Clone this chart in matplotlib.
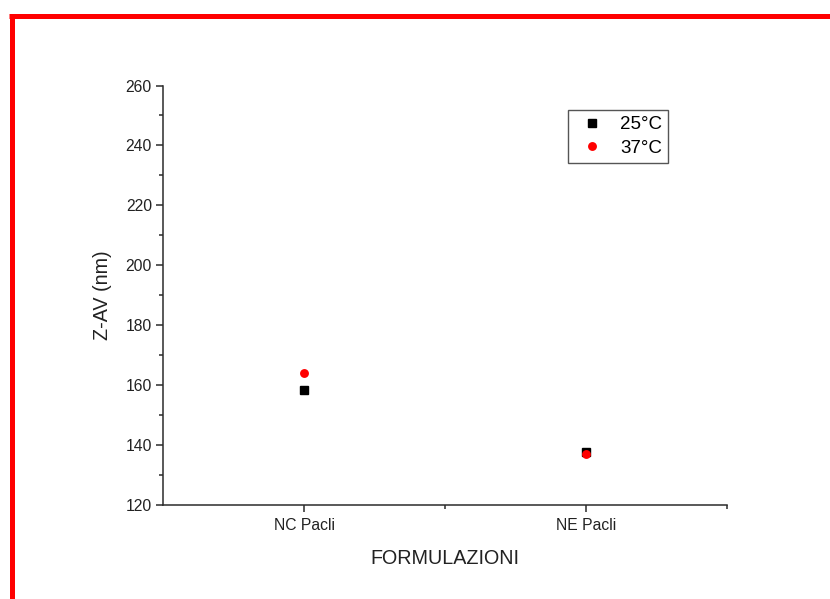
import matplotlib
matplotlib.use("Agg")
import matplotlib.pyplot as plt
from matplotlib.lines import Line2D
from matplotlib.ticker import MultipleLocator, FixedLocator

plt.rcParams['font.family'] = ['Liberation Sans', 'DejaVu Sans']

# Formulations and mean particle size (Z-average, nm) at two temperatures
categories = ["NC Pacli", "NE Pacli"]
zav_25 = [158.4, 137.6]
zav_37 = [164.0, 136.9]
series_labels = ["25°C", "37°C"]

W, H = 830, 599
fig = plt.figure(figsize=(W / 100, H / 100), dpi=100)
fig.patch.set_facecolor("white")

# Axes placement (pixel box -> figure fraction)
left, right, top, bottom = 163, 727, 85.5, 505
ax = fig.add_axes([left / W, 1 - bottom / H, (right - left) / W, (bottom - top) / H])
ax.set_facecolor("none")

x = [1, 2]
ax.plot(x, zav_25, linestyle="none", marker="s", markersize=5.8,
        color="black", label=series_labels[0], zorder=3)
ax.plot(x, zav_37, linestyle="none", marker="o", markersize=6.4,
        color="#ff0000", markeredgewidth=0, label=series_labels[1], zorder=4)

ax.set_xlim(0.5, 2.5)
ax.set_ylim(120, 260)
ax.xaxis.set_major_locator(FixedLocator(x))
ax.set_xticklabels(categories)
ax.xaxis.set_minor_locator(FixedLocator([1.5, 2.5]))
ax.yaxis.set_major_locator(MultipleLocator(20))
ax.yaxis.set_minor_locator(MultipleLocator(10))

axis_col = "#2b2b2b"
for side in ("top", "right"):
    ax.spines[side].set_visible(False)
for side in ("left", "bottom"):
    ax.spines[side].set_color(axis_col)
    ax.spines[side].set_linewidth(1.1)

ax.tick_params(which="major", direction="out", length=5, width=1.1,
               color=axis_col, labelsize=11.3, labelcolor="#222222", pad=3)
ax.tick_params(which="minor", direction="out", length=2.6, width=1.1,
               color=axis_col)
ax.tick_params(axis="x", which="major", pad=4)

ax.set_xlabel("FORMULAZIONI", fontsize=14.2, color="#222222", labelpad=12)
ax.set_ylabel("Z-AV (nm)", fontsize=14.2, color="#222222", labelpad=10)

leg = ax.legend(loc="upper left", bbox_to_anchor=(0.718, 0.9416),
                borderaxespad=0, fontsize=13.5, frameon=True, fancybox=False,
                handlelength=1.9, handletextpad=0.55, borderpad=0.32,
                labelspacing=0.36, framealpha=1)
leg.get_frame().set_edgecolor("#555555")
leg.get_frame().set_linewidth(1.0)

# Red frame along the top and left edges of the figure
border_col = "#ff0000"
lw_pt = 5 * 72 / 100
fig.add_artist(Line2D([11.5 / W, 11.5 / W], [1 - 15.5 / H, -0.05],
                      transform=fig.transFigure, color=border_col,
                      linewidth=lw_pt, solid_capstyle="butt"))
fig.add_artist(Line2D([9 / W, 1.05], [1 - 15.5 / H, 1 - 15.5 / H],
                      transform=fig.transFigure, color=border_col,
                      linewidth=lw_pt, solid_capstyle="butt"))

fig.savefig("out.png", dpi=100)
